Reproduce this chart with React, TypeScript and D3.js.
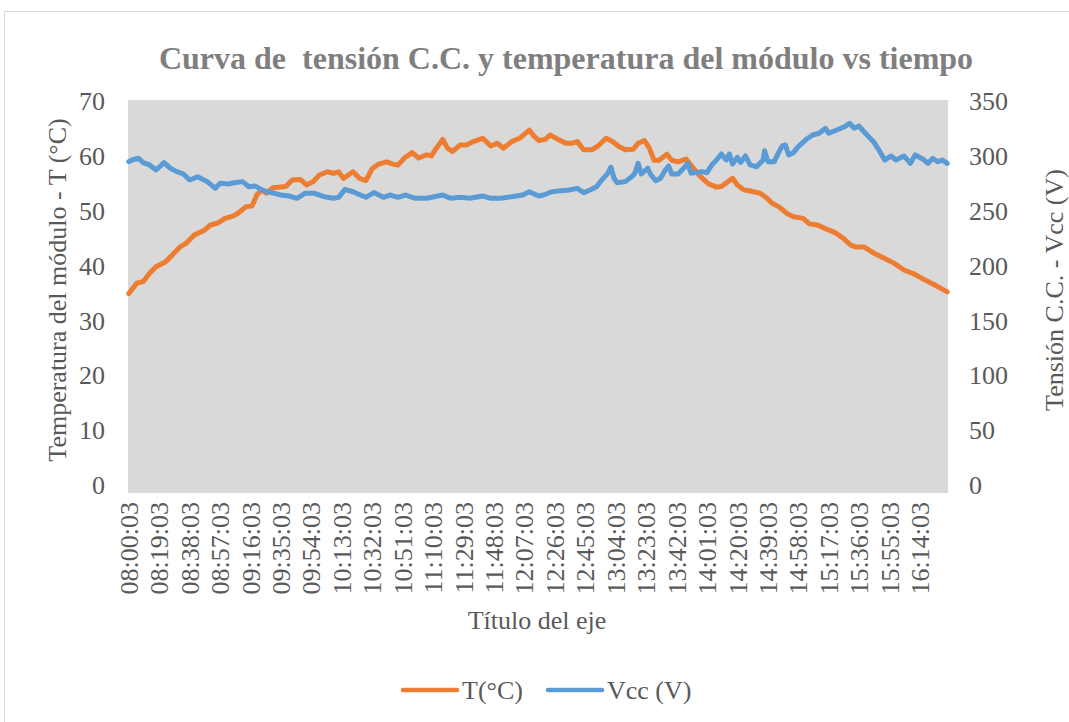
import React, { useEffect, useRef } from 'react';
import * as d3 from 'd3';

// etiquetas del eje de categorías (cada 19 min)
const timeLabels = [
  '08:00:03', '08:19:03', '08:38:03', '08:57:03', '09:16:03', '09:35:03', '09:54:03',
  '10:13:03', '10:32:03', '10:51:03', '11:10:03', '11:29:03', '11:48:03', '12:07:03',
  '12:26:03', '12:45:03', '13:04:03', '13:23:03', '13:42:03', '14:01:03', '14:20:03',
  '14:39:03', '14:58:03', '15:17:03', '15:36:03', '15:55:03', '16:14:03',
];
const lastMinute = 511; // 16:31:03

// T(°C): minutos desde 08:00:03 y valor
const tempMinutes = [
  0, 5, 9, 13, 17, 23, 27, 32, 36, 41, 47, 51, 56, 60, 65, 68, 73, 77, 80, 83, 86, 90, 98,
  102, 107, 111, 115, 119, 124, 128, 131, 134, 140, 144, 148, 152, 156, 161, 165, 168, 172,
  177, 181, 186, 189, 192, 196, 199, 202, 207, 211, 215, 221, 226, 230, 234, 239, 244, 250,
  253, 256, 260, 263, 268, 273, 277, 280, 284, 289, 293, 298, 302, 306, 310, 315, 318, 322,
  325, 328, 331, 336, 339, 343, 348, 352, 357, 362, 367, 370, 377, 380, 384, 388, 394, 398,
  402, 406, 411, 415, 421, 425, 430, 436, 441, 446, 451, 454, 459, 465, 472, 478, 484, 490,
  497, 503, 511,
];
const tempValues = [
  34.9, 36.8, 37.1, 38.6, 39.8, 40.7, 41.9, 43.4, 44.1, 45.6, 46.4, 47.4, 47.8, 48.6, 49.0,
  49.5, 50.7, 50.9, 52.9, 53.8, 53.2, 54.2, 54.4, 55.6, 55.7, 54.7, 55.3, 56.5, 57.1, 56.8,
  57.1, 55.9, 57.1, 55.9, 55.5, 57.7, 58.5, 58.9, 58.5, 58.3, 59.6, 60.6, 59.6, 60.2, 60.0,
  61.4, 63.0, 61.4, 60.8, 62.0, 62.0, 62.6, 63.2, 61.8, 62.3, 61.4, 62.6, 63.2, 64.7, 63.6,
  62.8, 63.0, 63.8, 63.0, 62.3, 62.3, 62.6, 61.1, 61.1, 61.8, 63.2, 62.6, 61.7, 61.1, 61.2,
  62.3, 62.8, 61.4, 59.2, 59.2, 60.3, 59.2, 58.9, 59.4, 57.9, 56.2, 54.9, 54.3, 54.4, 55.9,
  54.7, 53.8, 53.6, 53.2, 52.4, 51.3, 50.7, 49.5, 48.9, 48.6, 47.6, 47.4, 46.6, 46.0, 45.0,
  43.7, 43.4, 43.4, 42.3, 41.3, 40.4, 39.2, 38.5, 37.4, 36.5, 35.2,
];

// Vcc (V)
const vccMinutes = [
  0, 2, 6, 9, 13, 17, 22, 26, 30, 34, 38, 43, 49, 54, 57, 62, 66, 71, 75, 79, 83, 89, 95,
  100, 105, 110, 116, 122, 128, 131, 135, 140, 148, 153, 159, 163, 168, 173, 179, 186, 196,
  201, 207, 213, 221, 226, 232, 239, 246, 250, 256, 259, 264, 270, 275, 280, 284, 288, 292,
  295, 299, 301, 303, 305, 310, 314, 316, 318, 320, 324, 326, 329, 332, 335, 337, 339, 343,
  347, 349, 351, 354, 358, 361, 364, 367, 370, 373, 375, 377, 380, 382, 385, 388, 392, 396,
  397, 399, 403, 406, 408, 410, 412, 415, 418, 423, 427, 431, 435, 437, 442, 447, 450, 453,
  456, 459, 462, 465, 469, 472, 476, 479, 484, 488, 491, 496, 499, 502, 505, 508, 511,
];
const vccValues = [
  294.7, 296.2, 297.8, 293.8, 291.7, 287.1, 293.8, 288.7, 285.6, 283.5, 278.0, 281.0, 276.5,
  270.4, 275.0, 274.4, 275.5, 276.5, 271.9, 272.5, 268.9, 266.5, 264.3, 263.4, 261.3, 265.9,
  265.9, 262.8, 261.3, 262.2, 269.5, 267.3, 262.2, 266.5, 262.2, 264.3, 262.2, 264.3, 261.3,
  261.3, 264.3, 261.3, 262.2, 261.3, 263.4, 261.3, 261.3, 262.8, 264.3, 267.3, 263.4, 264.3,
  267.3, 268.3, 268.9, 270.4, 266.5, 268.9, 271.9, 277.4, 284.1, 289.6, 279.6, 275.5, 276.5,
  281.0, 284.1, 293.2, 283.5, 288.7, 282.6, 277.4, 279.6, 287.1, 290.8, 283.5, 283.5, 289.6,
  293.2, 284.1, 284.7, 285.6, 284.7, 291.7, 296.2, 301.7, 296.2, 301.7, 292.6, 298.7, 294.0,
  300.0, 291.7, 290.1, 296.2, 304.7, 294.7, 294.7, 303.8, 309.0, 309.9, 300.8, 302.9, 308.4,
  315.1, 319.0, 320.6, 325.1, 320.6, 323.6, 326.6, 329.7, 325.1, 327.2, 322.0, 317.5, 312.9,
  303.8, 296.2, 299.9, 296.2, 299.9, 293.2, 300.8, 296.9, 293.2, 297.8, 294.7, 296.2, 293.2,
];

const tempTicks = [0, 10, 20, 30, 40, 50, 60, 70];
const vccTicks = [0, 50, 100, 150, 200, 250, 300, 350];
const seriesNames = ['T(°C)', 'Vcc (V)'];
const seriesColors = ['#ED7D31', '#5B9BD5'];

const FONT = "'Liberation Serif', 'Times New Roman', serif";

// minutos transcurridos desde 08:00:03
const toMinutes = (s: string) => {
  const [h, m] = s.split(':').map(Number);
  return (h - 8) * 60 + m;
};

const App = () => {
  const chartRef = useRef<HTMLDivElement>(null);

  useEffect(() => {
    d3.select(chartRef.current).selectAll('*').remove();

    const width = 1069;
    const height = 722;
    const plot = { left: 128, right: 948, top: 100, bottom: 493 };

    const svg = d3.select(chartRef.current)
      .append('svg')
      .attr('width', width)
      .attr('height', height)
      .style('display', 'block');

    svg.append('rect')
      .attr('x', 4.5).attr('y', 11.5)
      .attr('width', 1100).attr('height', 800)
      .attr('fill', '#fff').attr('stroke', '#d9d9d9');

    const x = d3.scaleLinear().domain([-0.5, lastMinute + 0.5]).range([plot.left, plot.right]);
    const yT = d3.scaleLinear().domain([0, 70]).range([485, 101]);
    const yV = d3.scaleLinear().domain([0, 350]).range([485, 101]);

    svg.append('rect')
      .attr('x', plot.left).attr('y', plot.top)
      .attr('width', plot.right - plot.left).attr('height', plot.bottom - plot.top)
      .attr('fill', '#d9d9d9');

    // título
    svg.append('text')
      .attr('x', 566).attr('y', 69)
      .attr('text-anchor', 'middle')
      .attr('font-family', FONT).attr('font-size', 32).attr('font-weight', 'bold')
      .attr('fill', '#7f7f7f')
      .style('white-space', 'pre')
      .text('Curva de  tensión C.C. y temperatura del módulo vs tiempo');

    // eje izquierdo
    svg.append('g').selectAll('text')
      .data(tempTicks).enter().append('text')
      .attr('x', 105).attr('y', d => yT(d)).attr('dy', '0.35em')
      .attr('text-anchor', 'end')
      .attr('font-family', FONT).attr('font-size', 26).attr('fill', '#595959')
      .text(d => d);

    // eje derecho
    svg.append('g').selectAll('text')
      .data(vccTicks).enter().append('text')
      .attr('x', 969).attr('y', d => yV(d)).attr('dy', '0.35em')
      .attr('font-family', FONT).attr('font-size', 26).attr('fill', '#595959')
      .text(d => d);

    // etiquetas de tiempo, giradas
    svg.append('g').selectAll('text')
      .data(timeLabels).enter().append('text')
      .attr('transform', d => `translate(${x(toMinutes(d))},502) rotate(-90)`)
      .attr('dy', '0.35em')
      .attr('text-anchor', 'end')
      .attr('font-family', FONT).attr('font-size', 26).attr('fill', '#595959')
      .text(d => d);

    // títulos de ejes
    svg.append('text')
      .attr('transform', 'translate(57,290) rotate(-90)')
      .attr('dy', '0.35em').attr('text-anchor', 'middle')
      .attr('font-family', FONT).attr('font-size', 26).attr('fill', '#595959')
      .text('Temperatura del módulo - T (°C)');

    svg.append('text')
      .attr('transform', 'translate(1054,290) rotate(-90)')
      .attr('dy', '0.35em').attr('text-anchor', 'middle')
      .attr('font-family', FONT).attr('font-size', 26).attr('fill', '#595959')
      .text('Tensión C.C. - Vcc (V)');

    svg.append('text')
      .attr('x', 537).attr('y', 620).attr('dy', '0.35em')
      .attr('text-anchor', 'middle')
      .attr('font-family', FONT).attr('font-size', 26).attr('fill', '#595959')
      .text('Título del eje');

    // series
    const tempLine = d3.line<number>()
      .x((_, i) => x(tempMinutes[i]))
      .y(d => yT(d));
    const vccLine = d3.line<number>()
      .x((_, i) => x(vccMinutes[i]))
      .y(d => yV(d));

    svg.append('path')
      .attr('d', tempLine(tempValues))
      .attr('fill', 'none').attr('stroke', seriesColors[0])
      .attr('stroke-width', 5).attr('stroke-linejoin', 'round').attr('stroke-linecap', 'round');

    svg.append('path')
      .attr('d', vccLine(vccValues))
      .attr('fill', 'none').attr('stroke', seriesColors[1])
      .attr('stroke-width', 5).attr('stroke-linejoin', 'round').attr('stroke-linecap', 'round');

    // leyenda
    const legendX = [403, 548];
    const legend = svg.append('g');
    seriesNames.forEach((name, i) => {
      legend.append('line')
        .attr('x1', legendX[i]).attr('x2', legendX[i] + 54)
        .attr('y1', 690).attr('y2', 690)
        .attr('stroke', seriesColors[i]).attr('stroke-width', 4.5).attr('stroke-linecap', 'round');
      legend.append('text')
        .attr('x', legendX[i] + 59).attr('y', 690).attr('dy', '0.35em')
        .attr('font-family', FONT).attr('font-size', 26).attr('fill', '#595959')
        .text(name);
    });
  }, []);

  return (
    <div style={{ position: 'absolute', left: 0, top: 0 }}>
      <div ref={chartRef}></div>
    </div>
  );
};

export default App;
